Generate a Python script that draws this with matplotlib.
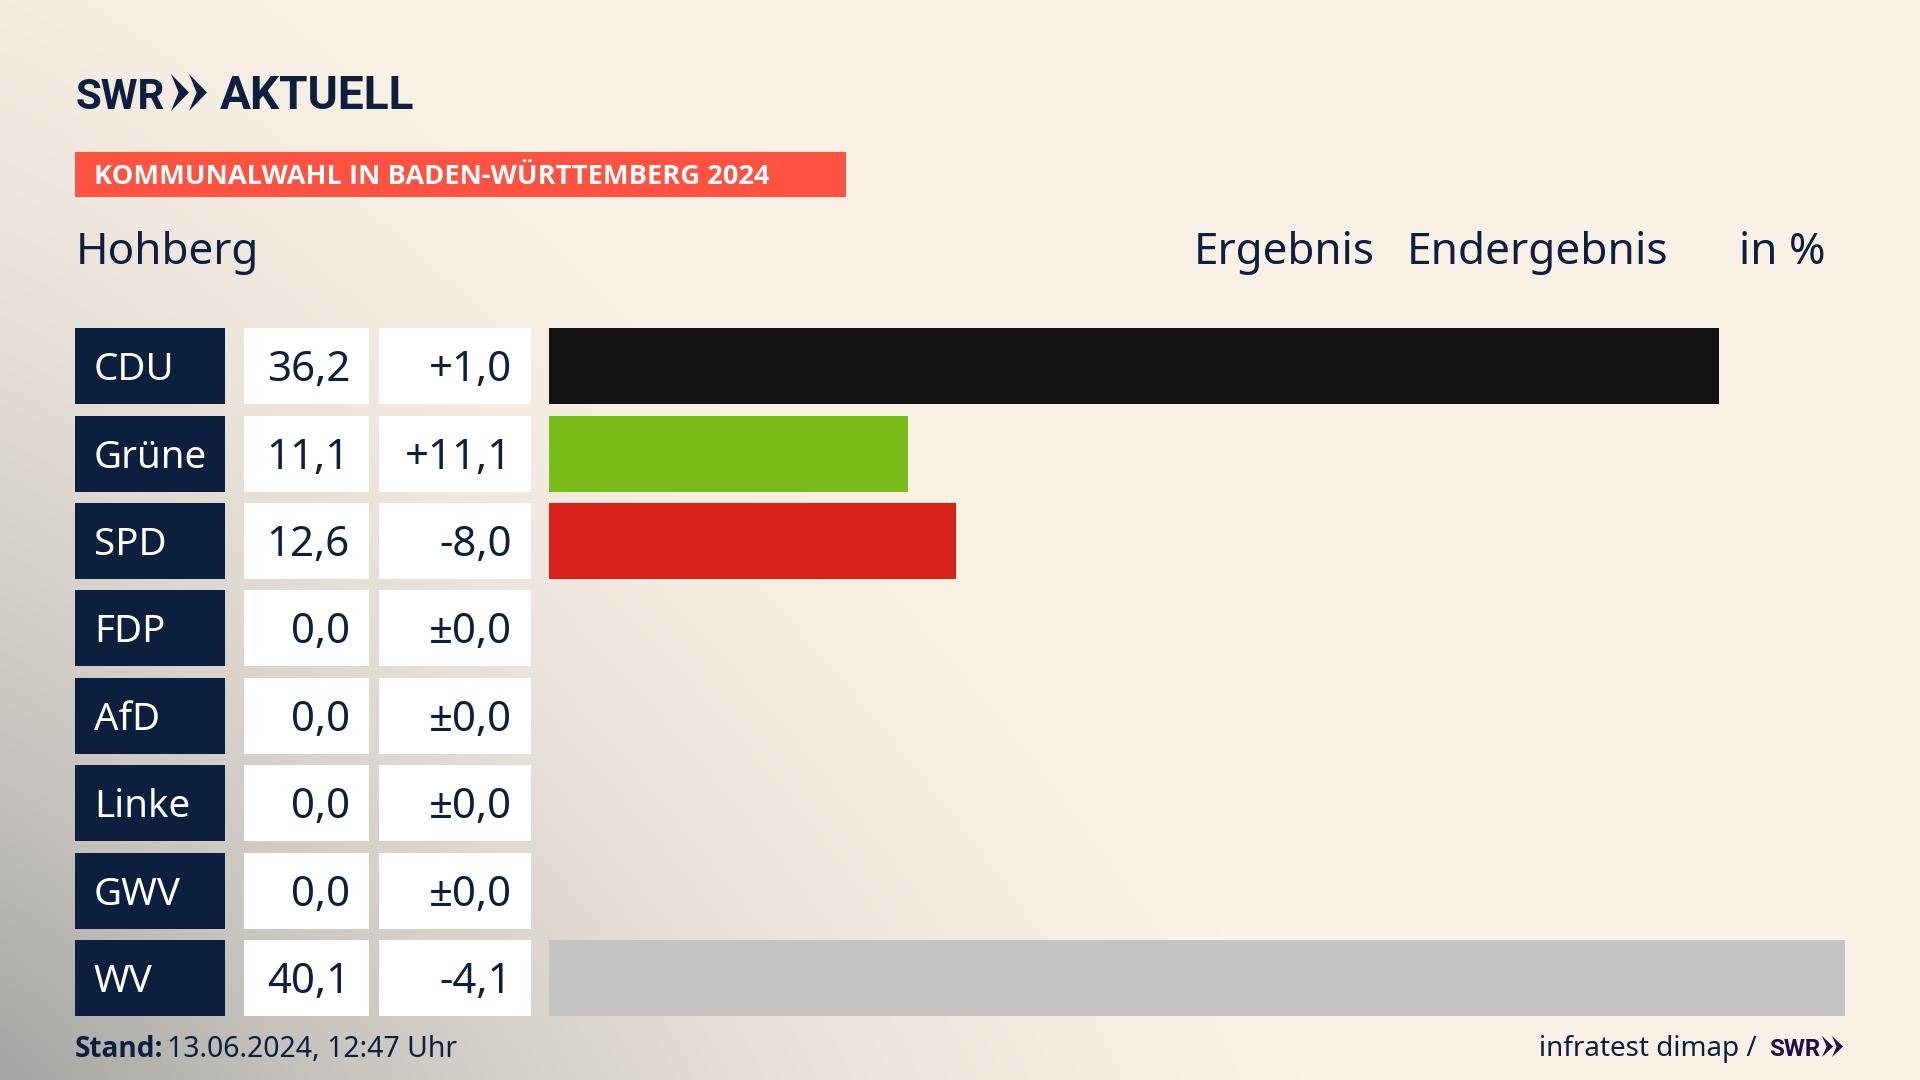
import numpy as np
import matplotlib
matplotlib.use("Agg")
import matplotlib.pyplot as plt
from matplotlib.patches import Rectangle, Polygon

# ---- data ----
parties = ["CDU", "Grüne", "SPD", "FDP", "AfD", "Linke", "GWV", "WV"]
results = [36.2, 11.1, 12.6, 0.0, 0.0, 0.0, 0.0, 40.1]
result_labels = ["36,2", "11,1", "12,6", "0,0", "0,0", "0,0", "0,0", "40,1"]
change_labels = ["+1,0", "+11,1", "-8,0", "±0,0", "±0,0", "±0,0", "±0,0", "-4,1"]
bar_colors = ["#121212", "#7ABD1A", "#D9211C", "#FFED00", "#009EE0", "#BE3075", "#888888", "#C4C4C4"]

W, H = 1920, 1080
NAVY = "#0C1F3F"
FONT = "Noto Sans"
BOLD = "Open Sans"
LOGO = "Roboto"
plt.rcParams["font.family"] = [FONT, "DejaVu Sans"]

fig = plt.figure(figsize=(W / 100, H / 100), dpi=100)

bg = fig.add_axes([0, 0, 1, 1])
bg.axis("off")

yy, xx = np.mgrid[0:H, 0:W]
p = 1.2
dist = (xx ** p + (H - yy) ** p) ** (1 / p)
t = np.interp(dist, [0, 150, 300, 600, 880, 1100, 1300], [1.0, 0.82, 0.62, 0.36, 0.15, 0.05, 0.0])
cream = np.array([250, 241, 230]) / 255
grey = np.array([165, 165, 163]) / 255
img = cream + (grey - cream) * t[..., None]
bg.imshow(img, extent=(0, W, H, 0), aspect="auto", zorder=0, interpolation="bilinear")
bg.set_xlim(0, W)
bg.set_ylim(H, 0)


def px(size_px):
    return size_px * 72 / 100


def T(x, y, s, size, ha="left", color=NAVY, bold=False, family=None):
    fam = family or (BOLD if bold else FONT)
    return bg.text(x, y, s, fontsize=px(size), ha=ha, va="baseline", color=color,
                   fontweight="bold" if bold else "normal",
                   family=[fam, "Open Sans", "DejaVu Sans"], zorder=5)


def chevrons(x, top, bottom, w, gap, color):
    mid = (top + bottom) / 2
    for i in range(2):
        x0 = x + i * gap
        bg.add_patch(Polygon([(x0, top), (x0 + w, mid), (x0, bottom), (x0 + w * 0.42, mid)],
                             closed=True, fc=color, ec="none", zorder=5))


# logo
T(76, 109, "SWR", 42, bold=True, family=LOGO)
chevrons(171, 74, 111, 18, 18, NAVY)
T(220, 109, "AKTUELL", 46, bold=True, family=LOGO)

# banner
bg.add_patch(Rectangle((75, 152), 771, 45, fc="#FF5240", ec="none", zorder=2))
T(94, 184, "KOMMUNALWAHL IN BADEN-WÜRTTEMBERG 2024", 27.2, color="white", bold=True)

# header line
T(76, 264, "Hohberg", 44)
T(1194, 264, "Ergebnis", 44)
T(1407, 264, "Endergebnis", 44.3)
T(1739, 264, "in %", 44)

# rows
row_top, pitch, row_h = 328.1, 87.42, 76
for i, (party, res, chg) in enumerate(zip(parties, result_labels, change_labels)):
    y = row_top + i * pitch
    bg.add_patch(Rectangle((75, y), 150, row_h, fc=NAVY, ec="none", zorder=2))
    bg.add_patch(Rectangle((244, y), 125, row_h, fc="white", ec="none", zorder=2))
    bg.add_patch(Rectangle((379, y), 152, row_h, fc="white", ec="none", zorder=2))
    T(94, y + 52, party, 38.5, color="white")
    T(350, y + 53, res, 42, ha="right")
    T(512, y + 53, chg, 42, ha="right")

# bars on their own value axis
bar_left, bar_right = 549, 1845
y_top = row_top - (pitch - row_h) / 2
y_bottom = row_top + 7 * pitch + row_h + (pitch - row_h) / 2
ax = fig.add_axes([bar_left / W, 1 - y_bottom / H, (bar_right - bar_left) / W, (y_bottom - y_top) / H])
ax.patch.set_alpha(0)
ax.barh(range(len(parties)), results, height=row_h / pitch, color=bar_colors, edgecolor="none")
ax.set_xlim(0, 40.1)
ax.set_ylim(len(parties) - 0.5, -0.5)
ax.axis("off")

# footer
T(75, 1057, "Stand:", 28, bold=True)
T(167, 1057, "13.06.2024, 12:47 Uhr", 28.4)
T(1539, 1056, "infratest dimap /", 27.8)
T(1769, 1056, "SWR", 24, color="#1F0F45", bold=True, family=LOGO)
chevrons(1822, 1036, 1057, 11, 10, "#1F0F45")

fig.savefig("out.png", dpi=100)
